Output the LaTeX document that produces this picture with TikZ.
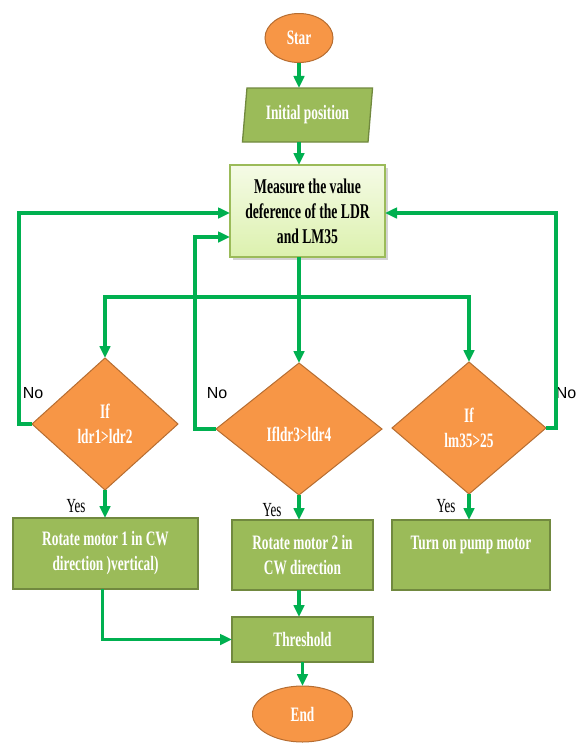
\documentclass[tikz,border=0pt]{standalone}
\usepackage{fontspec}
\setmainfont{Liberation Serif}[FakeStretch=0.65]
\newfontfamily\labelsans{Liberation Sans}
\usetikzlibrary{arrows.meta,shapes.geometric,shadows}
\definecolor{orfill}{HTML}{F79646}
\definecolor{ordraw}{HTML}{B66D31}
\definecolor{grfill}{HTML}{9BBB59}
\definecolor{grdraw}{HTML}{71893F}
\definecolor{arrowgreen}{HTML}{00B050}
\definecolor{paletop}{HTML}{F5FBE6}
\definecolor{palebot}{HTML}{DCF1AE}
\begin{document}
\begin{tikzpicture}[x=1pt,y=-1pt,
  every node/.style={inner sep=0pt, outer sep=0pt, align=center,
    font=\fontsize{20.5}{25}\selectfont\bfseries},
  term/.style={ellipse, fill=orfill, draw=ordraw, line width=1pt, text=white},
  io/.style={trapezium, trapezium left angle=80.5, trapezium right angle=99.5,
    trapezium stretches=true, fill=grfill, draw=grdraw, line width=1.3pt, text=white},
  proc/.style={rectangle, fill=grfill, draw=grdraw, line width=1.5pt, text=white},
  meas/.style={rectangle, top color=paletop, bottom color=palebot, draw=grfill,
    line width=1.2pt, text=black, font=\fontsize{21}{25}\selectfont\bfseries,
    drop shadow={shadow xshift=2.5pt, shadow yshift=-3pt, opacity=0.35}},
  dec/.style={diamond, fill=orfill, draw=ordraw, line width=1pt, text=white},
  conn/.style={draw=arrowgreen, line width=3.3pt, line join=miter,
    -{Triangle[length=12pt,width=10.5pt]}},
  nolab/.style={font=\labelsans\fontsize{16}{18}\selectfont, text=black},
  yeslab/.style={font=\fontsize{20}{22}\selectfont, text=black}
]
\useasboundingbox (0,0) rectangle (579,745);

% nodes
\node[term, minimum width=68, minimum height=49] (start) at (299,38) {Star};
\node[io, minimum width=131, minimum height=54] (init) at (307.5,115) {Initial position};
\node[meas, minimum width=155, minimum height=92] (meas) at (307.5,211)
  {Measure the value\\deference of the LDR\\and LM35};

\node[dec, minimum width=146, minimum height=132] (d1) at (105,424) {If\\ldr1>ldr2};
\node[dec, minimum width=166, minimum height=132] (d2) at (299,429) {\mbox{}\\Ifldr3>ldr4};
\node[dec, minimum width=154, minimum height=132] (d3) at (469,428) {If\\lm35>25};

\node[proc, minimum width=185, minimum height=71] (r1) at (105.5,553.5)
  {Rotate motor 1 in CW\\direction )vertical)};
\node[proc, minimum width=141, minimum height=70] (r2) at (302.5,555)
  {Rotate motor 2 in\\CW direction};
\node[proc, minimum width=158, minimum height=70] (r3) at (471,555)
  {Turn on pump motor\\\mbox{}};
\node[proc, minimum width=141, minimum height=45] (thr) at (302.5,639.5) {Threshold};
\node[term, minimum width=100, minimum height=56] (end) at (302.5,714) {End};

% labels
\node[nolab] (no1) at (33,393) {No};
\node[nolab] (no2) at (217,393) {No};
\node[nolab] (no3) at (566,393) {No};
\node[yeslab] (yes1) at (76,506) {Yes};
\node[yeslab] (yes2) at (272,510) {Yes};
\node[yeslab] (yes3) at (446,506) {Yes};

% connectors
\draw[conn] (start.south) -- (start.south |- init.north);
\draw[conn] (start |- init.south) -- (start |- meas.north);
\coordinate (busy) at (0,297);
\draw[conn] (start |- meas.south) -- (d2.north);
\draw[conn] (d2 |- busy) -| (d1.north);
\draw[conn] (d2 |- busy) -| (d3.north);

\draw[conn] (d1.west) -- ++(-13,0) |- (meas.west |- 0,213);
\draw[conn] (d2.west) -- ++(-21,0) |- (meas.west |- 0,237);
\draw[conn] (d3.east) -- ++(10,0) |- (meas.east |- 0,213);

\draw[conn] (d1.south) -- (d1.south |- r1.north);
\draw[conn] (d2.south) -- (d2.south |- r2.north);
\draw[conn] (d3.south) -- (d3.south |- r3.north);

\draw[conn] (d2 |- r2.south) -- (d2 |- thr.north);
\draw[conn] ([xshift=-3pt]r1.south) |- (thr.west);
\draw[conn] (thr.south) -- (end.north);
\end{tikzpicture}
\end{document}
